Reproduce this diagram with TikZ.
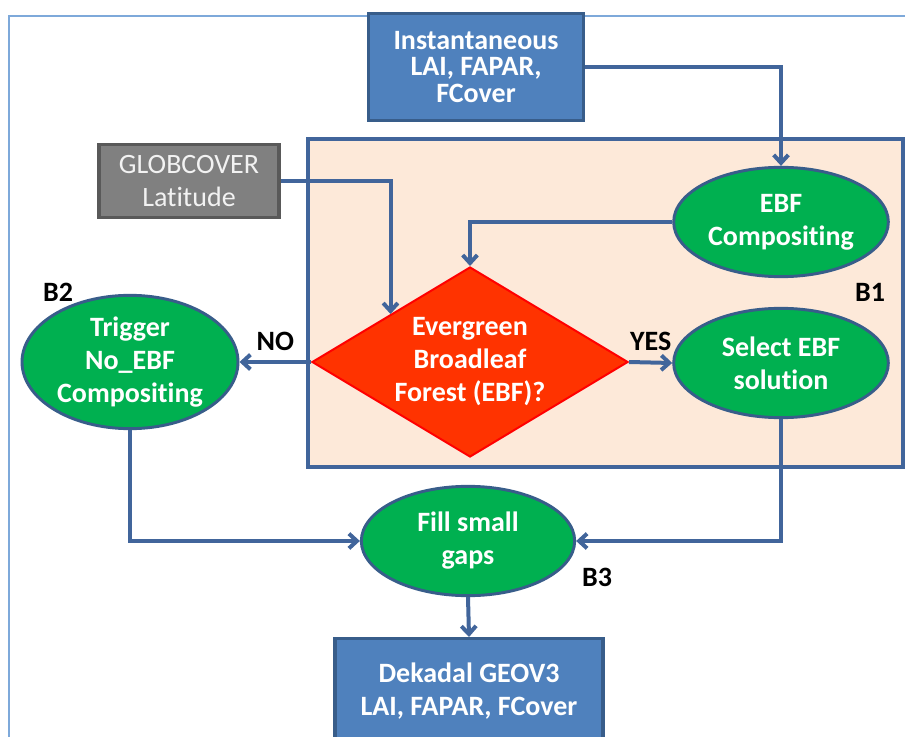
\documentclass[tikz,border=0pt]{standalone}
\usepackage{fontspec}
\setmainfont{Carlito}[Ligatures=NoCommon]
\usetikzlibrary{positioning,fit,calc,shapes.geometric,arrows.meta}
\definecolor{boxblue}{HTML}{4F81BD}
\definecolor{boxedge}{HTML}{385D8A}
\definecolor{ovalgreen}{HTML}{00B050}
\definecolor{peach}{HTML}{FDE9D9}
\definecolor{linkblue}{HTML}{41659B}
\definecolor{frameblue}{HTML}{7EA9DA}
\definecolor{decred}{HTML}{FF3300}
\tikzset{block/.style={draw=boxedge,line width=2.6pt,fill=boxblue,text=white,font=\fontsize{21}{24.75}\selectfont\bfseries,align=center,inner sep=0pt},
         oval/.style={ellipse,draw=boxedge,line width=2.2pt,fill=ovalgreen,text=white,font=\fontsize{21}{24.75}\selectfont\bfseries,align=center,inner sep=0pt,minimum width=161pt,minimum height=82pt},
         tag/.style={font=\fontsize{21}{24.75}\selectfont\bfseries},
         line/.style={-{Straight Barb[length=6pt,width=11pt]},draw=linkblue,line width=3pt}
}

\begin{document}
\begin{tikzpicture}[x=0.75pt,y=-0.75pt]
  \useasboundingbox (0,0) rectangle (905,737);
  \draw[frameblue,line width=2pt] (9,760) -- (9,16) -- (930,16);
  \draw[fill=peach,draw=linkblue,line width=2.6pt] (308,139) rectangle (903,467);
  \node[block,minimum width=161pt,minimum height=80pt,font=\fontsize{21}{20}\selectfont\bfseries] (inst) at (476,67) {Instantaneous\\LAI, FAPAR,\\FCover};
  \node[block,fill=black!50,draw=black!65,text=white!95!black,font=\fontsize{21}{24.75}\selectfont,minimum width=135pt,minimum height=55pt] (glob) at (189,181) {GLOBCOVER\\Latitude};
  \node[diamond,draw=red,line width=1.5pt,fill=decred,text=white,font=\fontsize{21}{24.75}\selectfont\bfseries,align=center,aspect=1.66,inner sep=0pt,minimum width=237pt,minimum height=142.5pt] (dec) at (470,362) {Evergreen\\Broadleaf\\Forest (EBF)?};
  \node[oval] (ebf) at (781,222) {EBF\\Compositing};
  \node[oval] (sel) at (781,363) {Select EBF\\solution};
  \node[oval,minimum width=162pt,minimum height=100pt] (trig) at (130,362) {Trigger\\No\_EBF\\Compositing};
  \node[oval,minimum width=160pt] (fill) at (468,541) {Fill small\\gaps};
  \node[block,minimum width=201pt,minimum height=79pt,anchor=north] (dek) at (469,637) {Dekadal GEOV3\\LAI, FAPAR, FCover};
  \node[tag] (b1) at (870,292) {B1};
  \node[tag] (b2) at (58,292) {B2};
  \node[tag] (b3) at (597,577) {B3};
  \draw[line] (inst.east) -| (ebf.north);
  \draw[line] (glob.east) -| (dec.north west);
  \draw[line] (ebf.west) -| (dec.north);
  \draw[line] (dec.east) -- node[tag,above=4pt] {YES} (sel.west);
  \draw[line] (dec.west) -- node[tag,above=4pt] {NO} (trig.east);
  \draw[line] (trig.south) |- (fill.west);
  \draw[line] (sel.south) |- (fill.east);
  \draw[line] (fill.south) -- (dek.north);
\end{tikzpicture}
\end{document}
